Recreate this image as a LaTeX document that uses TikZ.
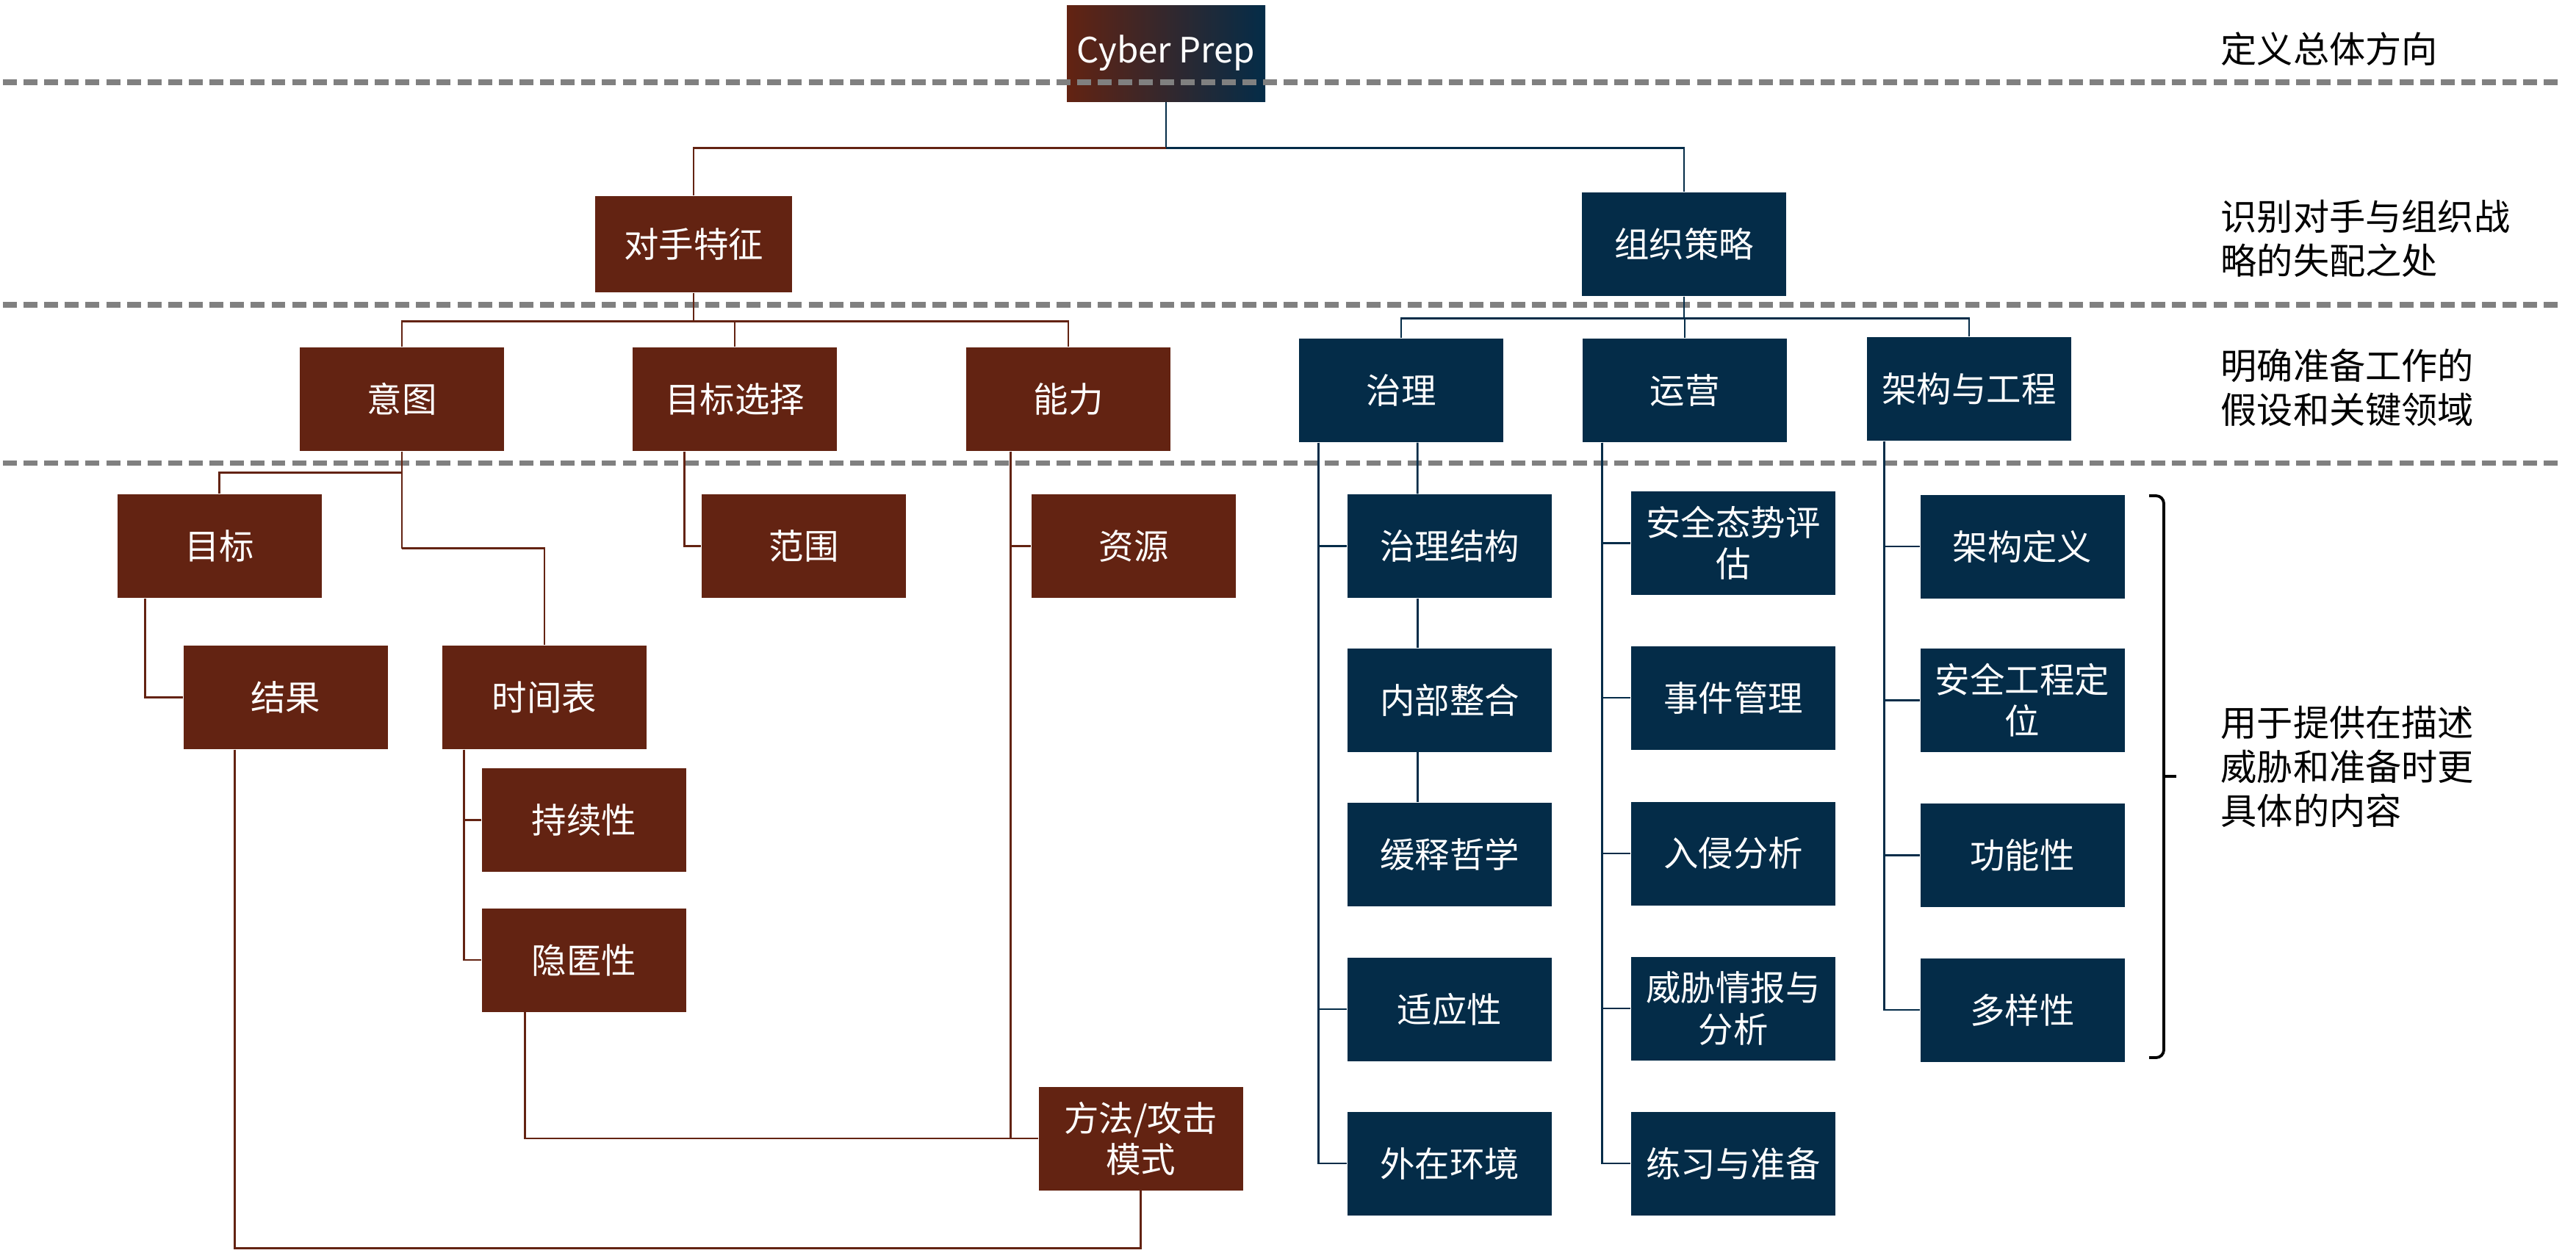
\documentclass[tikz,border=0pt]{standalone}
\usepackage{fontspec}
\setmainfont{Noto Sans CJK SC}
\definecolor{advred}{RGB}{99,35,18}
\definecolor{orgblue}{RGB}{4,44,72}
\definecolor{sepgray}{RGB}{128,128,128}

\begin{document}
\begin{tikzpicture}[x=1cm, y=-1cm,
  cbox/.style={minimum width=2.78cm, minimum height=1.41cm, inner sep=0pt, align=center, text=white, font=\fontsize{13.5pt}{16pt}\selectfont},
  adv/.style={cbox, fill=advred},
  org/.style={cbox, fill=orgblue},
  advline/.style={advred, line width=0.8pt},
  orgline/.style={orgblue, line width=0.8pt},
  sepline/.style={sepgray, line width=2pt, dash pattern=on 5.4pt off 2.6pt},
  stagetext/.style={anchor=west, inner sep=0pt, align=left, font=\fontsize{14pt}{17pt}\selectfont}]
\useasboundingbox (0,0) rectangle (35.06,17.05);

% top and second level
\node[cbox, minimum width=2.70cm, minimum height=1.31cm, left color=advred, right color=orgblue] (cp) at (15.87,0.725) {Cyber Prep};
\node[adv, minimum width=2.68cm, minimum height=1.31cm] (ds) at (9.44,3.325) {对手特征};
\node[org] (zz) at (22.92,3.325) {组织策略};

% adversary side
\node[adv] (yt) at (5.47,5.435) {意图};
\node[adv] (mbxz) at (10.00,5.435) {目标选择};
\node[adv] (nl) at (14.54,5.435) {能力};
\node[adv] (mb) at (2.985,7.435) {目标};
\node[adv] (fw) at (10.94,7.435) {范围};
\node[adv] (zy) at (15.43,7.435) {资源};
\node[adv] (jgu) at (3.885,9.495) {结果};
\node[adv] (sjb) at (7.41,9.495) {时间表};
\node[adv] (cxx) at (7.95,11.165) {持续性};
\node[adv] (ynx) at (7.95,13.07) {隐匿性};
\node[adv] (ff) at (15.525,15.50) {方法/攻击\\模式};

% organization side
\node[org] (zl) at (19.07,5.315) {治理};
\node[org] (yy) at (22.93,5.315) {运营};
\node[org] (jg) at (26.80,5.295) {架构与工程};

\node[org] (zljg) at (19.73,7.435) {治理结构};
\node[org] (nbzh) at (19.73,9.53) {内部整合};
\node[org] (hsxz) at (19.73,11.635) {缓释哲学};
\node[org] (syx) at (19.73,13.74) {适应性};
\node[org] (wzhj) at (19.73,15.84) {外在环境};

\node[org] (aqts) at (23.59,7.395) {安全态势评\\估};
\node[org] (sjgl) at (23.59,9.50) {事件管理};
\node[org] (rqfx) at (23.59,11.62) {入侵分析};
\node[org] (wxqb) at (23.59,13.73) {威胁情报与\\分析};
\node[org] (lxzb) at (23.59,15.84) {练习与准备};

\node[org] (jgdy) at (27.525,7.44) {架构定义};
\node[org] (aqgc) at (27.525,9.535) {安全工程定\\位};
\node[org] (gnx) at (27.525,11.645) {功能性};
\node[org] (dyx) at (27.525,13.75) {多样性};

% level separators
\foreach \y in {1.12,4.15,6.30}
{
    \draw[sepline] (0.04,\y) -- (34.86,\y);
}

% connectors
\draw[orgline] (cp.south) -- ++(0,0.63) coordinate (cpbus) -| (zz.north);
\draw[advline] (ds.north) |- (cpbus);

\draw[advline] (ds.south) -- ++(0,0.39) coordinate (dsbus);
\foreach \n in {yt,mbxz,nl}
{
    \draw[advline] (\n.north) |- (dsbus);
}
\draw[orgline] (zz.south) -- ++(0,0.30) coordinate (zzbus);
\foreach \n in {zl,yy,jg}
{
    \draw[orgline] (\n.north) |- (zzbus);
}

\draw[advline] (yt.south) -- ++(0,1.32) coordinate (yt2);
\path (yt.south) ++(0,0.29) coordinate (yt1);
\draw[advline] (mb.north) |- (yt1);
\draw[advline] (sjb.north) |- (yt2);
\draw[advline] ([xshift=0.39cm]mb.south west) |- (jgu.west);
\draw[advline] ([xshift=0.71cm]mbxz.south west) |- (fw.west);
\draw[advline] ([xshift=0.61cm]nl.south west) |- (zy.west);
\draw[advline] ([xshift=0.61cm]nl.south west) |- (ff.west);
\foreach \n in {cxx,ynx}
{
    \draw[advline] ([xshift=0.30cm]sjb.south west) |- (\n.west);
}
\draw[advline] ([xshift=0.59cm]ynx.south west) |- (ff.west);
\draw[advline] ([xshift=0.71cm]jgu.south west) |- ([yshift=-0.78cm]ff.south) -- (ff.south);

\draw[orgline] ([xshift=1.62cm]zl.south west) -- ([xshift=0.96cm]zljg.north west);
\draw[orgline] ([xshift=0.96cm]zljg.south west) -- ([xshift=0.96cm]nbzh.north west);
\draw[orgline] ([xshift=0.96cm]nbzh.south west) -- ([xshift=0.96cm]hsxz.north west);
\foreach \n in {zljg,syx,wzhj}
{
    \draw[orgline] ([xshift=0.27cm]zl.south west) |- (\n.west);
}
\foreach \n in {aqts,sjgl,rqfx,wxqb,lxzb}
{
    \draw[orgline] ([xshift=0.27cm]yy.south west) |- (\n.west);
}
\foreach \n in {jgdy,aqgc,gnx,dyx}
{
    \draw[orgline] ([xshift=0.24cm]jg.south west) |- (\n.west);
}

% stage notes
\draw[line width=1.1pt, rounded corners=3pt] (29.25,6.75) -- (29.45,6.75) -- (29.45,14.40) -- (29.25,14.40);
\draw[line width=1.1pt] (29.45,10.57) -- (29.62,10.57);
\node[stagetext] (n1) at (30.22,0.67) {定义总体方向};
\node[stagetext] (n2) at (30.22,3.25) {识别对手与组织战\\略的失配之处};
\node[stagetext] (n3) at (30.22,5.28) {明确准备工作的\\假设和关键领域};
\node[stagetext] (n4) at (30.22,10.44) {用于提供在描述\\威胁和准备时更\\具体的内容};

\end{tikzpicture}
\end{document}
